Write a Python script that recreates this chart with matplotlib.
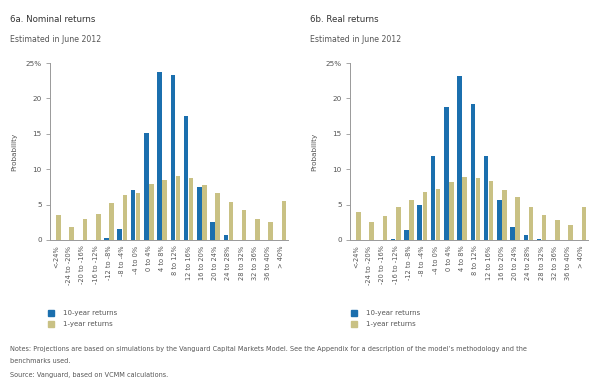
import matplotlib
matplotlib.use("Agg")
import matplotlib.pyplot as plt
import numpy as np
from matplotlib.patches import Rectangle

categories = ["<-24%", "-24 to -20%", "-20 to -16%", "-16 to -12%", "-12 to -8%",
              "-8 to -4%", "-4 to 0%", "0 to 4%", "4 to 8%", "8 to 12%",
              "12 to 16%", "16 to 20%", "20 to 24%", "24 to 28%", "28 to 32%",
              "32 to 36%", "36 to 40%", "> 40%"]

nominal_10yr = [0, 0, 0, 0, 0.3, 1.5, 7.0, 15.1, 23.7, 23.3, 17.5, 7.5, 2.6, 0.7, 0, 0, 0, 0]
nominal_1yr = [3.5, 1.8, 2.9, 3.7, 5.2, 6.3, 6.6, 7.9, 8.5, 9.0, 8.8, 7.7, 6.6, 5.3, 4.2, 3.0, 2.6, 5.5]
real_10yr = [0, 0, 0, 0.1, 1.4, 5.0, 11.8, 18.8, 23.1, 19.2, 11.8, 5.6, 1.9, 0.7, 0.1, 0, 0, 0]
real_1yr = [4.0, 2.5, 3.4, 4.6, 5.6, 6.8, 7.2, 8.2, 8.9, 8.7, 8.4, 7.0, 6.1, 4.6, 3.6, 2.8, 2.1, 4.7]

BLUE = "#1b6fae"
KHAKI = "#c9c184"
GREY = "#555555"
SPINE = "#999999"

fig = plt.figure(figsize=(5.95, 3.8), dpi=100)
fig.patch.set_facecolor("white")

x = np.arange(len(categories))
w = 0.34


def panel(left, title, s10, s1, legx):
    ax = fig.add_axes([left, 140 / 380, 238 / 595, 177 / 380])
    ax.bar(x - 0.19, s10, width=w, color=BLUE, linewidth=0)
    ax.bar(x + 0.19, s1, width=w, color=KHAKI, linewidth=0)
    ax.set_xlim(-0.45, 17.5)
    ax.set_ylim(0, 25)
    ax.set_yticks([0, 5, 10, 15, 20, 25])
    ax.set_yticklabels(["0", "5", "10", "15", "20", "25%"])
    ax.set_xticks(x)
    ax.set_xticklabels(categories, rotation=90, fontsize=4.8, color=GREY)
    ax.tick_params(axis="x", length=0, pad=4)
    ax.tick_params(axis="y", length=3, width=0.6, color=SPINE, labelsize=5.2,
                   labelcolor=GREY, pad=3)
    for s in ["top", "right"]:
        ax.spines[s].set_visible(False)
    for s in ["left", "bottom"]:
        ax.spines[s].set_color(SPINE)
        ax.spines[s].set_linewidth(0.7)
    ax.set_ylabel("Probability", fontsize=5.2, color=GREY, labelpad=6)

    fx = left - 40 / 595
    fig.text(fx, 1 - 20 / 380, title, fontsize=6.2, color="#333333", va="center")
    fig.text(fx, 1 - 39 / 380, "Estimated in June 2012", fontsize=5.6, color=GREY, va="center")

    # legend
    for i, (lab, col) in enumerate([("10-year returns", BLUE), ("1-year returns", KHAKI)]):
        yy = 1 - (313 + i * 11) / 380
        fig.patches.append(Rectangle((legx / 595, yy - 3 / 380), 6 / 595, 6 / 380,
                                     transform=fig.transFigure, color=col))
        fig.text((legx + 15) / 595, yy, lab, fontsize=5.0, color=GREY, va="center")
    return ax


panel(50 / 595, "6a. Nominal returns", nominal_10yr, nominal_1yr, 48)
panel(350 / 595, "6b. Real returns", real_10yr, real_1yr, 351)

fig.text(10 / 595, 1 - 349 / 380,
         "Notes: Projections are based on simulations by the Vanguard Capital Markets Model. "
         "See the Appendix for a description of the model\u2019s methodology and the",
         fontsize=4.7, color=GREY, va="center")
fig.text(10 / 595, 1 - 361 / 380, "benchmarks used.", fontsize=4.7, color=GREY, va="center")
fig.text(10 / 595, 1 - 375 / 380, "Source: Vanguard, based on VCMM calculations.",
         fontsize=4.7, color=GREY, va="center")

fig.savefig("out.png", dpi=100, facecolor="white")
